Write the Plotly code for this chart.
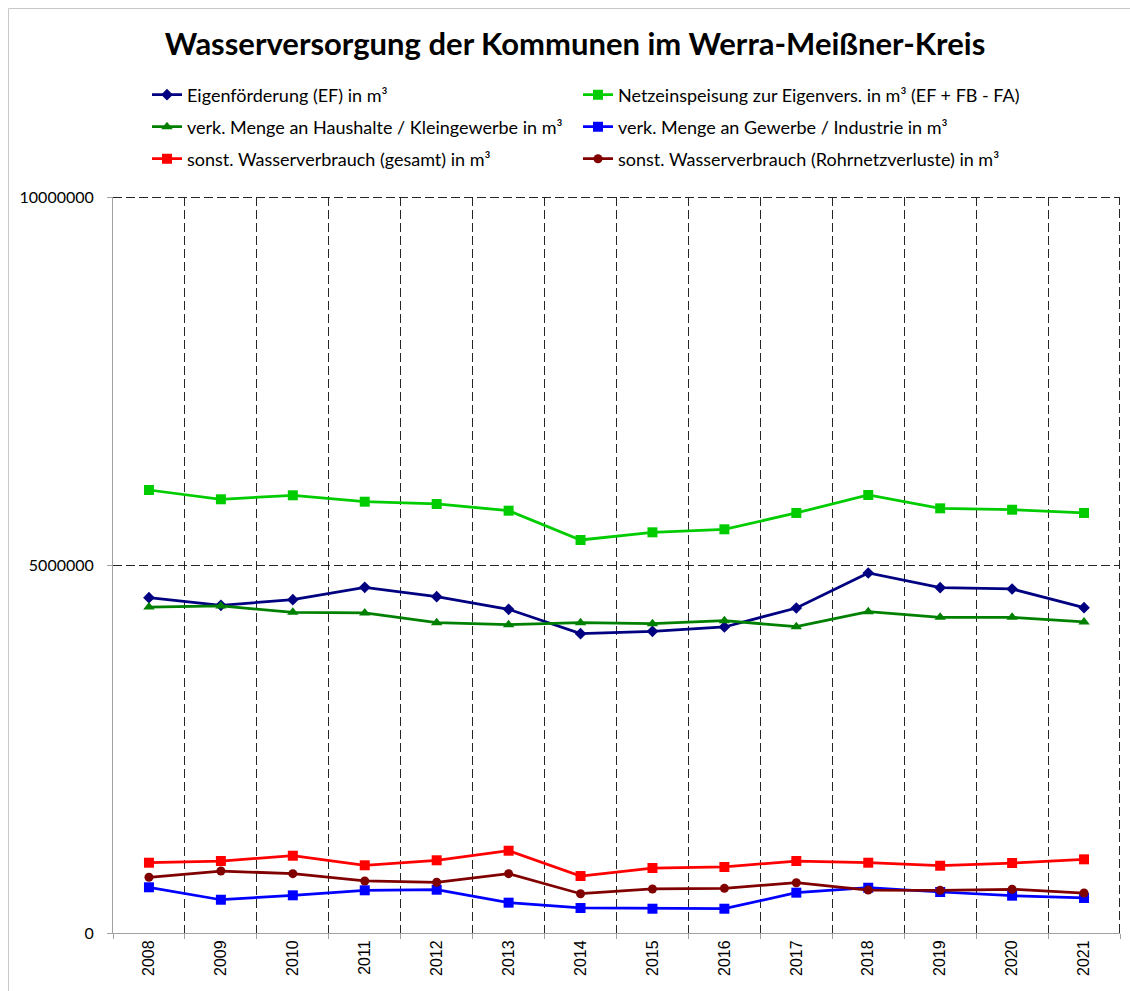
import plotly.graph_objects as go

years = [str(y) for y in range(2008, 2022)]

eigenfoerderung = [4556000, 4452000, 4529000, 4697000, 4569000, 4398000, 4067000,
                   4099000, 4158000, 4416000, 4891000, 4692000, 4674000, 4420000]
netzeinspeisung = [6019000, 5893000, 5947000, 5860000, 5829000, 5738000, 5340000,
                   5444000, 5485000, 5707000, 5951000, 5770000, 5751000, 5707000]
haushalte = [4429000, 4443000, 4357000, 4348000, 4216000, 4189000, 4216000,
             4202000, 4243000, 4162000, 4365000, 4289000, 4289000, 4226000]
gewerbe = [621000, 452000, 512000, 580000, 588000, 412000, 340000,
           330000, 330000, 548000, 615000, 557000, 507000, 476000]
sonst_gesamt = [955000, 978000, 1050000, 920000, 988000, 1118000, 774000,
                883000, 897000, 978000, 955000, 914000, 951000, 1001000]
rohrnetzverluste = [757000, 842000, 806000, 707000, 689000, 806000, 534000,
                    598000, 607000, 683000, 584000, 580000, 594000, 543000]

names = [
    "Eigenförderung (EF) in m³",
    "Netzeinspeisung zur Eigenvers. in m³ (EF + FB - FA)",
    "verk. Menge an Haushalte / Kleingewerbe in m³",
    "verk. Menge an Gewerbe / Industrie in m³",
    "sonst. Wasserverbrauch (gesamt) in m³",
    "sonst. Wasserverbrauch (Rohrnetzverluste) in m³",
]
series = [eigenfoerderung, netzeinspeisung, haushalte, gewerbe, sonst_gesamt, rohrnetzverluste]
colors = ["#000080", "#00CC00", "#008000", "#0000FF", "#FF0000", "#800000"]
symbols = ["diamond", "square", "triangle-up", "square", "square", "circle"]
msizes = [9, 10, 10, 10, 10, 9]
legend_ids = ["legend", "legend2", "legend3", "legend4", "legend5", "legend6"]

fig = go.Figure()
for n, s, c, sym, ms, lg in zip(names, series, colors, symbols, msizes, legend_ids):
    fig.add_trace(go.Scatter(
        x=years, y=s, name=n, mode="lines+markers",
        line=dict(color=c, width=2.75),
        marker=dict(symbol=sym, size=ms, color=c),
        legend=lg,
    ))

font_main = "Lato, 'Open Sans', sans-serif"
leg_common = dict(orientation="h",
                  font=dict(family=font_main, size=18, color="#000000"),
                  xanchor="left", yanchor="middle", bgcolor="rgba(0,0,0,0)",
                  itemclick=False, itemdoubleclick=False)
col_x = [(147 - 113) / 1007, (578 - 113) / 1007]
row_y = [(933 - 95) / 736, (933 - 127) / 736, (933 - 159) / 736]

legend_layout = {}
for i, lg in enumerate(legend_ids):
    legend_layout[lg] = dict(x=col_x[i % 2], y=row_y[i // 2], **leg_common)

fig.update_layout(
    width=1130, height=991,
    margin=dict(l=113, r=10, t=197, b=58, autoexpand=False),
    paper_bgcolor="white", plot_bgcolor="white",
    title=dict(text="<b>Wasserversorgung der Kommunen im Werra-Meißner-Kreis</b>",
               x=575 / 1130, xanchor="center", y=1 - 44 / 991, yanchor="middle",
               font=dict(family=font_main, size=31, color="#000000")),
    showlegend=True,
    **legend_layout,
)

grid_dash = "9px,4px"
grid_color = "#262626"

fig.update_xaxes(
    type="category", range=[-0.5, 13.5], tickson="boundaries", ticks="outside", ticklen=5,
    tickcolor="#A0A0A0", showline=True, linecolor="#A0A0A0", linewidth=1,
    showgrid=True, gridcolor=grid_color, griddash=grid_dash, gridwidth=1,
    tickangle=-90, tickfont=dict(family="'Liberation Sans', Arial", size=16, color="#000000"),
    automargin=False,
)
fig.update_yaxes(
    range=[0, 10000000], tickvals=[0, 5000000, 10000000], tickformat="d",
    ticks="outside", ticklen=5, tickcolor="#A0A0A0", ticklabelstandoff=10,
    showline=True, linecolor="#A0A0A0", linewidth=1,
    showgrid=True, gridcolor=grid_color, griddash=grid_dash, gridwidth=1,
    zeroline=False, automargin=False,
    tickfont=dict(family=font_main, size=16, color="#000000"),
)

# gridlines at the plot edges (plotly skips grid lines on the edges)
top_y = 1 - 0.5 / 736
right_x = 1 - 0.5 / 1007
fig.add_shape(type="line", xref="paper", yref="paper", x0=0, x1=1, y0=top_y, y1=top_y,
              line=dict(color=grid_color, width=1, dash=grid_dash), layer="below")
fig.add_shape(type="line", xref="paper", yref="paper", x0=right_x, x1=right_x, y0=0, y1=1,
              line=dict(color=grid_color, width=1, dash=grid_dash), layer="below")

# chart area border
fig.add_shape(type="rect", xref="paper", yref="paper",
              x0=(8.5 - 113) / 1007, x1=(1140 - 113) / 1007,
              y0=(933 - 1000) / 736, y1=(933 - 8.5) / 736,
              line=dict(color="#C8C8C8", width=1), fillcolor="rgba(0,0,0,0)", layer="below")

fig.write_html("out.html", config={"displayModeBar": False},
               post_script="document.body.style.margin='0';")
